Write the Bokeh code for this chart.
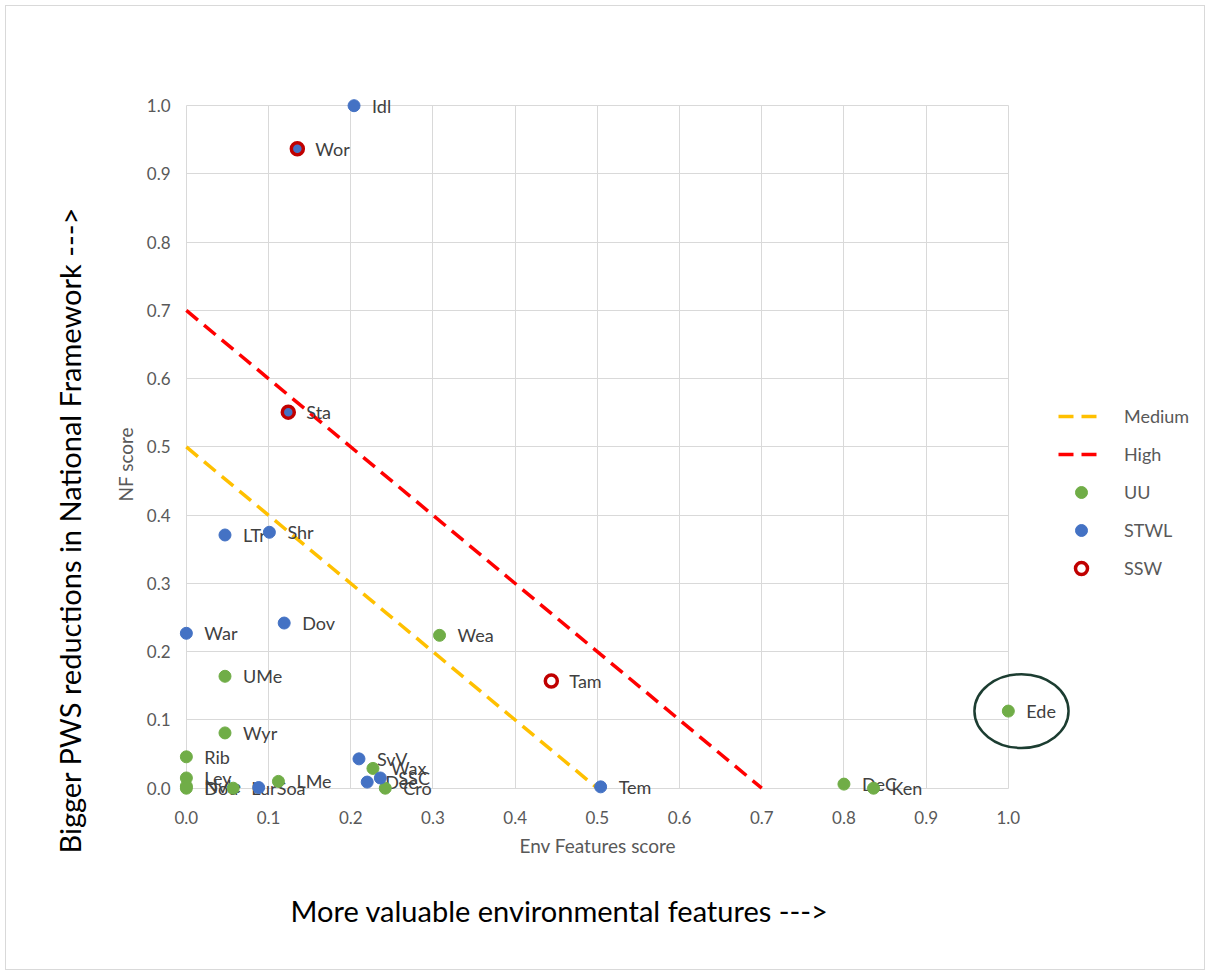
from bokeh.plotting import figure
from bokeh.models import (Range1d, FixedTicker, PrintfTickFormatter, Legend, LegendItem, Title)
from bokeh.core.properties import value
from bokeh.embed import file_html
from bokeh.resources import INLINE

# ---- data ----
uu_names = ["Wea", "UMe", "Ede", "Wyr", "Rib", "Wax", "Cro", "DeC", "Ken", "Ley", "Nvle", "Dou", "Lur", "LMe"]
uu_x = [0.308, 0.047, 1.000, 0.047, 0.000, 0.227, 0.242, 0.800, 0.836, 0.000, 0.000, 0.000, 0.057, 0.112]
uu_y = [0.224, 0.164, 0.113, 0.081, 0.046, 0.029, 0.000, 0.006, 0.000, 0.015, 0.003, 0.000, 0.000, 0.010]

stwl_names = ["Idl", "Wor", "Sta", "LTr", "Shr", "Dov", "War", "SvV", "SSC", "Dee", "Tem", "Soa"]
stwl_x = [0.204, 0.135, 0.124, 0.047, 0.101, 0.119, 0.000, 0.210, 0.236, 0.220, 0.504, 0.088]
stwl_y = [1.000, 0.937, 0.551, 0.371, 0.375, 0.242, 0.227, 0.043, 0.015, 0.009, 0.002, 0.001]

ssw_names = ["Wor", "Sta", "Tam"]
ssw_x = [0.135, 0.124, 0.444]
ssw_y = [0.937, 0.551, 0.157]

medium_x = [0.0, 0.5]
medium_y = [0.5, 0.0]
high_x = [0.0, 0.7]
high_y = [0.7, 0.0]

ticks = [0.0, 0.1, 0.2, 0.3, 0.4, 0.5, 0.6, 0.7, 0.8, 0.9, 1.0]

# highlighted point
ede_x, ede_y = 1.016, 0.113

FONT = "Lato"
GRAY = "#595959"
GREEN = "#70AD47"
BLUE = "#4472C4"

p = figure(width=1200, height=965, output_backend="svg", toolbar_location=None,
           x_range=Range1d(-0.012, 1.2277), y_range=Range1d(-0.018, 1.012),
           min_border_left=170, min_border_right=11, min_border_top=91, min_border_bottom=171)
p.styles = {"border": "1px solid #d9d9d9", "margin": "5px 0 0 5px"}
p.outline_line_color = None
p.background_fill_color = "white"
p.border_fill_color = "white"

for ax, stand in ((p.xaxis[0], 4), (p.yaxis[0], 0)):
    ax.ticker = FixedTicker(ticks=ticks)
    ax.formatter = PrintfTickFormatter(format="%.1f")
    ax.bounds = (0, 1)
    ax.axis_line_color = None
    ax.major_tick_line_color = None
    ax.minor_tick_line_color = None
    ax.major_label_standoff = stand
    ax.major_label_text_font = FONT
    ax.major_label_text_font_size = "17px"
    ax.major_label_text_color = GRAY

for g in (p.xgrid[0], p.ygrid[0]):
    g.ticker = FixedTicker(ticks=ticks)
    g.grid_line_color = "#d9d9d9"
    g.grid_line_width = 1
    g.bounds = (0, 1)
    g.cross_bounds = (0, 1)

# threshold lines
r_med = p.line(medium_x, medium_y, line_color="#FFC000", line_width=3.5, line_dash="15 8")
r_high = p.line(high_x, high_y, line_color="#FF0000", line_width=3.5, line_dash="15 8")

# labels (drawn beneath dots)
lab_names = uu_names + stwl_names + [n for n in ssw_names if n not in stwl_names]
lab_x = uu_x + stwl_x + [x for n, x in zip(ssw_names, ssw_x) if n not in stwl_names]
lab_y = uu_y + stwl_y + [y for n, y in zip(ssw_names, ssw_y) if n not in stwl_names]
p.text(x=lab_x, y=lab_y, text=lab_names, x_offset=18, text_baseline="middle",
       text_font=value(FONT), text_font_size="18px", text_color="#404040")

r_uu = p.scatter(uu_x, uu_y, size=12, fill_color=GREEN, line_color=GREEN)
r_stwl = p.scatter(stwl_x, stwl_y, size=12, fill_color=BLUE, line_color=BLUE)
r_ssw = p.scatter(ssw_x, ssw_y, size=12, fill_color=None, line_color="#C00000", line_width=3.5)

p.ellipse(x=[ede_x], y=[ede_y], width=0.1145, height=0.108, fill_color=None,
          line_color="#1C3D31", line_width=2.5)

legend = Legend(items=[LegendItem(label="Medium", renderers=[r_med]),
                       LegendItem(label="High", renderers=[r_high]),
                       LegendItem(label="UU", renderers=[r_uu]),
                       LegendItem(label="STWL", renderers=[r_stwl]),
                       LegendItem(label="SSW", renderers=[r_ssw])],
                location=(882, 217), padding=0, margin=0, spacing=8,
                glyph_height=30, glyph_width=46, label_standoff=20,
                label_text_font=FONT, label_text_font_size="18px", label_text_color=GRAY,
                border_line_color=None, background_fill_alpha=0)
p.add_layout(legend, "center")

# axis titles
t_x = Title(text="Env Features score", align="left", offset=343, standoff=11,
            text_font=FONT, text_font_size="19px", text_font_style="normal", text_color=GRAY)
p.add_layout(t_x, "below")
t_below = Title(text="More valuable environmental features --->", align="left", offset=114,
                standoff=56, text_font=FONT, text_font_size="29px", text_font_style="normal",
                text_color="#000000")
p.add_layout(t_below, "below")

t_y = Title(text="NF score", align="left", offset=299, standoff=14,
            text_font=FONT, text_font_size="19px", text_font_style="normal", text_color=GRAY)
p.add_layout(t_y, "left")
t_left = Title(text="Bigger PWS reductions in National Framework --->", align="left", offset=-53,
               standoff=35, text_font=FONT, text_font_size="29px", text_font_style="normal",
               text_color="#000000")
p.add_layout(t_left, "left")

open("out.html", "w").write(file_html(p, INLINE))
